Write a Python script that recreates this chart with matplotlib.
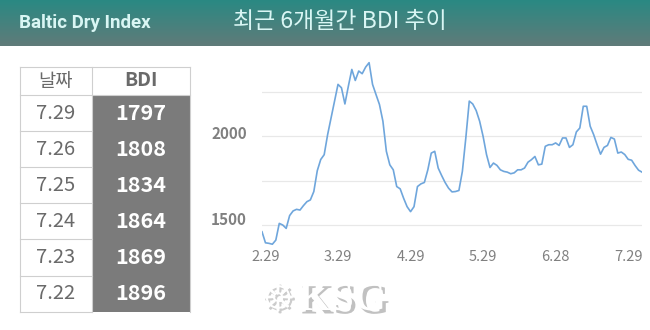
import numpy as np
import matplotlib.pyplot as plt
import matplotlib.patheffects as pe
from matplotlib.patches import Rectangle

# recent table values
table_dates = ['7.29', '7.26', '7.25', '7.24', '7.23', '7.22']
table_bdi = [1797, 1808, 1834, 1864, 1869, 1896]

# BDI, one value per trading day (2.29 -> 7.29)
bdi = [1462, 1400, 1397, 1392, 1415, 1509, 1500, 1481, 1553, 1579,
       1588, 1584, 1609, 1631, 1641, 1688, 1805, 1868, 1895, 2008,
       2102, 2196, 2290, 2271, 2180, 2280, 2374, 2312, 2365, 2350,
       2387, 2412, 2290, 2233, 2177, 2083, 1914, 1838, 1810, 1716,
       1703, 1650, 1603, 1575, 1603, 1716, 1731, 1739, 1810, 1904,
       1914, 1820, 1778, 1739, 1707, 1686, 1688, 1694, 1801, 1989,
       2196, 2180, 2143, 2083, 1998, 1895, 1823, 1848, 1835, 1810,
       1801, 1797, 1788, 1793, 1810, 1810, 1820, 1853, 1867, 1885,
       1838, 1842, 1942, 1951, 1951, 1961, 1947, 1989, 1989, 1936,
       1951, 2023, 2045, 2167, 2167, 2055, 2008, 1951, 1898, 1936,
       1947, 1992, 1983, 1904, 1910, 1896, 1869, 1864, 1834, 1808,
       1797]
x_labels = ['2.29', '3.29', '4.29', '5.29', '6.28', '7.29']
x_label_pos = [1, 22, 43, 64, 85, 106]
y_labels = [1500, 2000]
grid_vals = [1500, 1750, 2000, 2250]

W, H = 650, 330
fig = plt.figure(figsize=(W / 100, H / 100), dpi=100)

# background canvas in pixel coordinates
bg = fig.add_axes([0, 0, 1, 1])
bg.set_xlim(0, W)
bg.set_ylim(H, 0)
bg.axis('off')

# header band with a soft vertical gradient
top = np.array([0x2a, 0x89, 0x83]) / 255
bot = np.array([0x60, 0x7b, 0x79]) / 255
t = np.linspace(0, 1, 50)[:, None, None]
grad = top * (1 - t) + bot * t
grad = np.repeat(grad, 2, axis=1)
bg.imshow(grad, extent=[0, W, 46, 0], aspect='auto', zorder=0)
bg.text(85, 23, 'Baltic Dry Index', color='#d9f6f4', fontsize=13.5, fontweight='bold',
        family=['Roboto', 'DejaVu Sans'], ha='center', va='center')
bg.text(340, 22, '최근 6개월간 BDI 추이', color='#d9f6f4', fontsize=16.5,
        family=['Noto Sans CJK KR', 'DejaVu Sans'], ha='center', va='center')

# table
kfont = ['Noto Sans CJK KR', 'DejaVu Sans']
tx0, tx1, tx2 = 20, 92, 190
ty0, hh, rh = 67, 28, 36.1
bg.add_patch(Rectangle((tx1, ty0 + hh), tx2 - tx1, rh * 6, facecolor='#7b7b7b',
                       edgecolor='none', zorder=1))
for i in range(7):
    yy = ty0 + hh + rh * i
    bg.plot([tx0, tx1], [yy, yy], color='#cfcfcf', lw=0.8, zorder=2)
bg.plot([tx0, tx2], [ty0, ty0], color='#cfcfcf', lw=0.8, zorder=2)
bg.plot([tx1, tx2], [ty0 + hh, ty0 + hh], color='#cfcfcf', lw=0.8, zorder=2)
for xx in [tx0, tx1, tx2]:
    bg.plot([xx, xx], [ty0, ty0 + hh + rh * 6], color='#cfcfcf', lw=0.8, zorder=2)
bg.text((tx0 + tx1) / 2, ty0 + hh / 2, '날짜', color='#6a6a6a', fontsize=13.5,
        family=kfont, ha='center', va='center', zorder=3)
bg.text((tx1 + tx2) / 2, ty0 + hh / 2, 'BDI', color='#6a6a6a', fontsize=14,
        fontweight='bold', family=kfont, ha='center', va='center', zorder=3)
for i, (d, v) in enumerate(zip(table_dates, table_bdi)):
    yc = ty0 + hh + rh * (i + 0.5)
    bg.text((tx0 + tx1) / 2, yc, d, color='#6a6a6a', fontsize=14.5,
            family=kfont, ha='center', va='center', zorder=3)
    bg.text((tx1 + tx2) / 2, yc, str(v), color='white', fontsize=15.5,
            fontweight='bold', family=kfont, ha='center', va='center', zorder=3)

# KSG watermark
bg.text(278, 300, '☸', color='white', fontsize=28, ha='center', va='center', zorder=2,
        path_effects=[pe.withSimplePatchShadow(offset=(1.5, -1.5), shadow_rgbFace='#aaaaaa', alpha=0.6)])
bg.text(342, 300, 'KSG', color='white', fontsize=30, fontweight='bold',
        family=['Liberation Serif', 'DejaVu Serif'], ha='center', va='center', zorder=2,
        path_effects=[pe.withSimplePatchShadow(offset=(2.5, -2.5), shadow_rgbFace='#999999', alpha=0.6)])

# line chart, placed so that 2000 sits at y=136 px and 1500 at y=225 px
ymin, ymax = 1300, 2500
px_per = 89 / 500
y_top = 136 - (ymax - 2000) * px_per
y_bot = 136 + (2000 - ymin) * px_per
ax = fig.add_axes([262 / W, 1 - y_bot / H, 380 / W, (y_bot - y_top) / H])
ax.patch.set_alpha(0)
ax.set_xlim(0, len(bdi) - 1)
ax.set_ylim(ymin, ymax)
for g in grid_vals:
    ax.axhline(g, color='#e8e8e8', lw=0.9, zorder=1)
ax.plot(range(len(bdi)), bdi, color='#6fa6dc', lw=1.2, zorder=3)
for p, lab in zip(x_label_pos, x_labels):
    ax.text(p, 1320, lab, color='#808080', fontsize=10.5, ha='center', va='center',
            family=kfont, clip_on=False)
# tick labels sit about 15 px left of the plot edge
dx = 15 * (len(bdi) - 1) / 380
for v in y_labels:
    ax.text(-dx, v + (30 if v == 1500 else 10), str(v), color='#808080', fontsize=11,
            fontweight='bold', ha='right', va='center', family=kfont, clip_on=False)
ax.axis('off')

fig.savefig('out.png', dpi=100)
